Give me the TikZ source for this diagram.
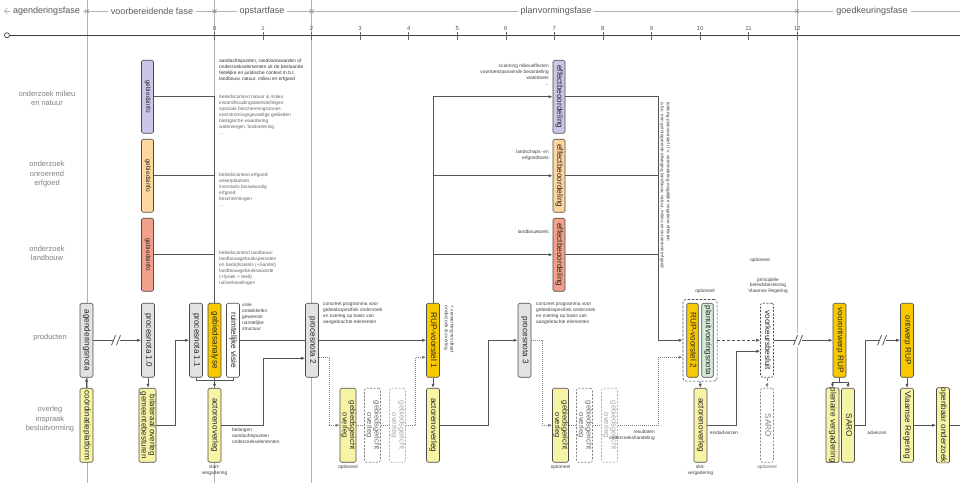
\documentclass[tikz,border=0pt]{standalone}
\usepackage{fontspec}
\setmainfont{Liberation Sans}
\usepackage{graphicx}
\usetikzlibrary{arrows.meta,calc,fit}
\definecolor{lc}{HTML}{555555}
\definecolor{boxg}{HTML}{E2E2E2}
\definecolor{gold}{HTML}{F8C800}
\definecolor{pyel}{HTML}{F8F4A6}
\definecolor{lav}{HTML}{CAC6E8}
\definecolor{peach}{HTML}{FCD69C}
\definecolor{salm}{HTML}{F2A08A}
\definecolor{pgreen}{HTML}{D6ECD8}
\pgfdeclarelayer{back}
\pgfdeclarelayer{bg}
\pgfsetlayers{back,bg,main}
\newcommand\vt[1]{\rotatebox{-90}{\def\arraystretch{0.9}\begin{tabular}{@{}c@{}}#1\end{tabular}}}
\tikzset{
 ln/.style={draw=lc, line width=0.8pt},
 conn/.style={ln, -{Latex[length=4pt,width=3.2pt]}},
 dline/.style={draw=black!50, line width=0.7pt, dash pattern=on 1pt off 1pt},
 dconn/.style={dline, -{Latex[length=4pt,width=3.2pt]}},
 dshconn/.style={conn, dash pattern=on 3pt off 2pt},
 bx/.style={draw=black!70, line width=0.6pt, rounded corners=1.5pt, inner sep=0pt, text=black!85, font=\fontsize{8.2}{8.8}\selectfont, minimum width=13pt, minimum height=74pt},
 envbx/.style={bx, minimum width=12pt, minimum height=73pt},
 dbx/.style={bx, fill=white, dash pattern=on 2pt off 1.5pt},
 note/.style={font=\fontsize{4.8}{5.9}\selectfont, align=left, inner sep=0pt, text=black!60},
 rowlab/.style={font=\fontsize{7.5}{9.5}\selectfont, align=center, text=black!50},
 phlab/.style={font=\fontsize{9}{10}\selectfont, text=black!65, fill=white, inner xsep=3pt, inner ysep=1pt},
 num/.style={font=\fontsize{6}{7}\selectfont, text=black!65, inner sep=0.5pt},
 brk/.pic={\fill[white] (-3.5,-7) rectangle (3.5,7); \draw[lc, line width=0.8pt] (-4.5,5) -- (-0.5,-5) (0.5,5) -- (4.5,-5);}
}
\begin{document}
\begin{tikzpicture}[x=1pt,y=-1pt]
\begin{pgfonlayer}{back}
\fill[white] (0,0) rectangle (960,483);
\foreach \x in {87,214.5,311.5,797} \draw[black!30, line width=0.5pt] (\x,0) -- (\x,483);
\end{pgfonlayer}
\useasboundingbox (0,0) rectangle (960,483);

% header
\draw[black!30, line width=0.6pt, {Straight Barb[length=3pt]}-] (4,11) -- (960,11);
\foreach \x in {87,214.5,311.5,797} \draw[black!45, line width=0.5pt] (\x-2,9) -- (\x+2,13) (\x-2,13) -- (\x+2,9);
\node[phlab] (f1) at (46.5,11) {agenderingsfase};
\node[phlab] (f2) at (152,11) {voorbereidende fase};
\node[phlab] (f3) at (262,11) {opstartfase};
\node[phlab] (f4) at (556,11) {planvormingsfase};
\node[phlab] (f5) at (872,11) {goedkeuringsfase};
\draw[black!75, line width=0.9pt] (9.5,35) -- (960,35);
\draw[black!75, line width=0.7pt, fill=white] (7,35) circle[radius=2.5pt];
\foreach \i in {0,...,12} {
  \draw[black!60, line width=0.6pt] ({214.5+48.55*\i},32) -- ({214.5+48.55*\i},40);
  \node[num] (t\i) at ({214.5+48.55*\i},28) {\i};
}

% row labels
\node[rowlab] (r1) at (47,98) {onderzoek milieu\\en natuur};
\node[rowlab] (r2) at (47,174) {onderzoek\\onroerend\\erfgoed};
\node[rowlab] (r3) at (47,253) {onderzoek\\landbouw};
\node[rowlab] (r4) at (50,337) {producten};
\node[rowlab] (r5) at (50,419) {overleg\\inspraak\\besluitvorming};

% research boxes
\node[envbx, fill=lav, font=\fontsize{6.5}{7}\selectfont] (gi1) at (147.5,96.5) {\vt{gebiedsinfo}};
\node[envbx, fill=peach, font=\fontsize{6.5}{7}\selectfont] (gi2) at (147.5,175.5) {\vt{gebiedsinfo}};
\node[envbx, fill=salm, font=\fontsize{6.5}{7}\selectfont] (gi3) at (147.5,254.5) {\vt{gebiedsinfo}};
\node[envbx, fill=lav] (eb1) at (559,96.5) {\vt{effectbeoordeling}};
\node[envbx, fill=peach] (eb2) at (559,175.5) {\vt{effectbeoordeling}};
\node[envbx, fill=salm] (eb3) at (559,254.5) {\vt{effectbeoordeling}};

% products
\node[bx, fill=boxg] (an) at (86.5,340) {\vt{agenderingsnota}};
\node[bx, fill=boxg] (pn10) at (148,340) {\vt{procesnota 1.0}};
\node[bx, fill=boxg] (pn11) at (196,340) {\vt{procesnota 1.1}};
\node[bx, fill=gold] (ga) at (214.5,340) {\vt{gebiedsanalyse}};
\node[bx, fill=white] (rv) at (233,340) {\vt{ruimtelijke visie}};
\node[bx, fill=boxg] (pn2) at (312,340) {\vt{procesnota 2}};
\node[bx, fill=gold] (rup1) at (433,340) {\vt{RUP-voorstel 1}};
\node[bx, fill=boxg] (pn3) at (524.5,340) {\vt{procesnota 3}};
\node[bx, fill=gold, minimum width=11.5pt] (rup2) at (692.5,340) {\vt{RUP-voorstel 2}};
\node[bx, fill=pgreen, minimum width=11.5pt, font=\fontsize{8}{8.6}\selectfont] (pun) at (707.5,340) {\vt{planuitvoeringsnota}};
\node[fit=(rup2)(pun), inner sep=3.5pt, draw=black!70, line width=0.6pt, dash pattern=on 2.5pt off 1.5pt, rounded corners=3pt] (grp) {};
\node[dbx] (vkb) at (767,340) {\vt{voorkeursbesluit}};
\node[bx, fill=gold] (vo) at (839.5,340) {\vt{voorontwerp RUP}};
\node[bx, fill=gold] (ont) at (907,340) {\vt{ontwerp RUP}};

% overleg
\node[bx, fill=pyel] (cp) at (86.5,425) {\vt{coördinatieplatform}};
\node[bx, fill=pyel, minimum width=17pt, font=\fontsize{8}{8.4}\selectfont] (bil) at (147.5,425) {\vt{bilateraal overleg\\gemeentebesturen}};
\node[bx, fill=pyel] (ao1) at (214.5,425) {\vt{actorenoverleg}};
\node[bx, fill=pyel, minimum width=16pt, font=\fontsize{7.5}{8}\selectfont] (go1) at (348,425) {\vt{gebiedsgericht\\overleg}};
\node[dbx, minimum width=16pt, draw=black!50, text=black!60, font=\fontsize{7.5}{8}\selectfont] (go2) at (372.5,425) {\vt{gebiedsgericht\\overleg}};
\node[dbx, minimum width=16pt, draw=black!30, text=black!35, font=\fontsize{7.5}{8}\selectfont] (go3) at (397.5,425) {\vt{gebiedsgericht\\overleg}};
\node[bx, fill=pyel] (ao2) at (433,425) {\vt{actorenoverleg}};
\node[bx, fill=pyel, minimum width=16pt, font=\fontsize{7.5}{8}\selectfont] (go4) at (560.5,425) {\vt{gebiedsgericht\\overleg}};
\node[dbx, minimum width=16pt, draw=black!50, text=black!60, font=\fontsize{7.5}{8}\selectfont] (go5) at (584.5,425) {\vt{gebiedsgericht\\overleg}};
\node[dbx, minimum width=16pt, draw=black!30, text=black!35, font=\fontsize{7.5}{8}\selectfont] (go6) at (609.5,425) {\vt{gebiedsgericht\\overleg}};
\node[bx, fill=pyel] (ao3) at (700.5,425) {\vt{actorenoverleg}};
\node[dbx, draw=black!45, text=black!50] (saro1) at (767,425) {\vt{SARO}};
\node[bx, fill=pyel] (pv) at (832.5,425) {\vt{plenaire vergadering}};
\node[bx, fill=pyel] (saro2) at (848,425) {\vt{SARO}};
\node[bx, fill=pyel] (vr) at (907,425) {\vt{Vlaamse Regering}};
\node[bx, fill=pyel] (oo) at (943,425) {\vt{openbaar onderzoek}};

% notes
\node[note, anchor=north west, text=black!80] (nA) at (219,59) {aandachtspunten, randvoorwaarden of\\onderzoekselementen uit de bestaande\\feitelijke en juridische context m.b.t.\\landbouw, natuur, milieu en erfgoed};
\node[note, anchor=north west] (nB) at (219,95) {beleidscontext natuur \& milieu:\\instandhoudingsdoelstellingen\\speciale beschermingszones\\overstromingsgevoelige gebieden\\biologische waardering\\waterwegen, boskartering\\...};
\node[note, anchor=north west] (nC) at (219,173) {beleidscontext erfgoed:\\ankerplaatsen\\inventaris bouwkundig\\erfgoed\\beschermingen\\...};
\node[note, anchor=north west] (nD) at (219,251) {beleidscontext landbouw:\\landbouwgebruikspercelen\\en bedrijfszetels (+Sanitel)\\landbouwgebruikswaarde\\(+fysiek + teelt)\\ruilverkavelingen};
\node[note, anchor=north west, text=black!75] (nE) at (242,303) {visie\\ontwikkelen\\gewenste\\ruimtelijke\\structuur};
\node[note, anchor=north west, text=black!75] (nF) at (323,302) {concreet programma voor\\gebiedsspecifiek onderzoek\\en overleg op basis van\\aangebrachte elementen};
\node[note, anchor=north west, text=black!75] (nG) at (536,302) {concreet programma voor\\gebiedsspecifiek onderzoek\\en overleg op basis van\\aangebrachte elementen};
\node[note, anchor=north west, text=black!75] (nH) at (232,428) {belangen\\aandachtspunten\\onderzoekselementen};
\node[note, align=center, text=black!75] (nI) at (214.5,470) {start-\\vergadering};
\node[note, text=black!75] (nJ) at (348,467) {optioneel};
\node[note, text=black!75] (nK) at (560.5,467) {optioneel};
\node[note, text=black!60] (nL) at (767,467) {optioneel};
\node[note, align=center, text=black!75] (nM) at (700.5,470) {slot-\\vergadering};
\node[note, text=black!75] (nN) at (705,291) {optioneel};
\node[note, text=black!75] (nO) at (760,260) {optioneel};
\node[note, align=center, text=black!75] (nP) at (768,285.5) {principiële\\beleidsbeslissing\\Vlaamse Regering};
\node[note, text=black!75] (nQ) at (724,433) {eindadviezen};
\node[note, text=black!75] (nR) at (877,433) {adviezen};
\node[note, anchor=north east, align=right, text=black!75] (nS) at (655,430) {resultaten\\onderzoekshandeling};
\node[note, anchor=north east, align=right, text=black!75] (nT) at (549,64) {scanning milieueffecten\\voortoets/passende beoordeling\\watertoets\\...};
\node[note, anchor=north east, align=right, text=black!75] (nU) at (549,150) {landschaps- en\\erfgoedtoets};
\node[note, anchor=east, text=black!75] (nV) at (549,232) {landbouwtoets};
\node[note, rotate=-90, text=black!75] (nW) at (449,329) {+ verwerking resultaat\\onderzoek \& overleg};
\node[note, rotate=-90, text=black!75, font=\fontsize{4.6}{5.9}\selectfont] (nX) at (665,185) {toetsing planvoorstel i.f.v. vermindering mogelijke negatieve effecten\\o.b.v. een geïntegreerde afweging landbouw, natuur, milieu en onroerend erfgoed};

% connectors
\begin{pgfonlayer}{bg}
\draw[ln] (gi1.east) -| (ga.north);
\draw[ln] (gi2.east) -- (gi2.east -| ga.north);
\draw[ln] (gi3.east) -- (gi3.east -| ga.north);
\draw[conn] (rup1.north) |- (eb1.west);
\draw[conn] (rup1.north) |- (eb2.west);
\draw[conn] (rup1.north) |- (eb3.west);
\coordinate (mer) at (658,340);
\draw[conn] (eb1.east) -| (mer) -- (grp.west);
\draw[ln] (eb2.east) -- (eb2.east -| mer);
\draw[ln] (eb3.east) -- (eb3.east -| mer);
\draw[conn] (an.east) -- (pn10.west);
\pic at (116,340) {brk};
\draw[conn] (cp.north) -- (an.south);
\draw[conn] (pn10.south) -- (pn10.south |- bil.north);
\draw[conn] (bil.east) -- ++(19,0) |- (pn11.west);
\draw[ln] (pn11.south) -- ++(0,3) -| (rv.south);
\draw[conn] (ga.south) -- (ao1.north);
\draw[conn] (rv.east) -- (rup1.west);
\draw[conn] (ao1.east) -- ++(42,0) |- ($(pn2.west)+(0,18)$);
\draw[dconn] ($(pn2.east)+(0,17)$) -- ++(11,0) |- (go1.west);
\draw[dline] (go1.east) -- (go2.west) (go2.east) -- (go3.west);
\draw[dconn] (go3.east) -- ++(10,0) |- ($(rup1.west)+(0,17)$);
\draw[conn] (rup1.south) -- (ao2.north);
\draw[conn] (ao2.east) -- ++(49,0) |- (pn3.west);
\draw[dconn] (pn3.east) -- ++(11,0) |- (go4.west);
\draw[dline] (go4.east) -- (go5.west) (go5.east) -- (go6.west);
\draw[dconn] (go6.east) -- ++(41,0) |- ($(grp.west)+(0,17)$);
\draw[conn] (grp.south) -- (ao3.north);
\draw[conn] (ao3.east) -- ++(29,0) |- ($(vkb.west)+(0,11)$);
\draw[dshconn] (grp.east) -- (vkb.west);
\draw[dshconn, draw=black!50] (vkb.south) -- (saro1.north);
\draw[conn] (vkb.east) -- (vo.west);
\pic at (798,340) {brk};
\draw[conn] (vo.south) -- ++(0,5) -| (pv.north);
\draw[conn] (vo.south) -- ++(0,5) -| (saro2.north);
\draw[conn] (saro2.east) -- ++(11,0) |- (ont.west);
\pic at (882,340) {brk};
\draw[conn] (ont.south) -- (vr.north);
\draw[conn] (vr.east) -- (oo.west);
\coordinate (rend) at (960,425);
\draw[ln] (oo.east) -- (rend);
\end{pgfonlayer}
\end{tikzpicture}
\end{document}
